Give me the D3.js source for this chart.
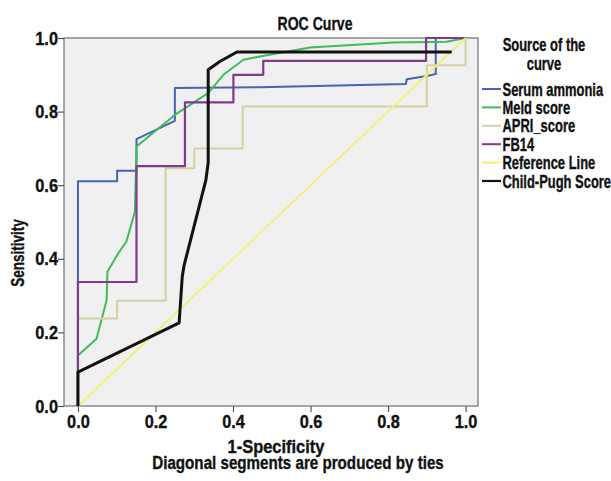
<!DOCTYPE html>
<html>
<head>
<meta charset="utf-8">
<script src="https://cdn.jsdelivr.net/npm/d3@7"></script>
<style>
  body { margin: 0; background: #fff; }
  text { font-family: "Liberation Sans", Arial, sans-serif; font-weight: bold; fill: #111; stroke: #111; stroke-width: 0.35px; }
</style>
</head>
<body>
<div id="chart"></div>
<script>
// series: [1-specificity, sensitivity]
const seriesNames = ["Serum ammonia", "Meld score", "APRI_score", "FB14", "Reference Line", "Child-Pugh Score"];
const seriesColors = ["#4863b4", "#3dbd55", "#d6cfa1", "#7f3b8b", "#f4ef72", "#111111"];

const serumX = [0, 0, 0.101, 0.101, 0.151, 0.151, 0.250, 0.250, 0.470, 0.728, 0.846, 0.848, 0.900, 0.923, 0.923, 1.0];
const serumY = [0, 0.611, 0.611, 0.639, 0.639, 0.725, 0.775, 0.864, 0.866, 0.872, 0.875, 0.888, 0.897, 0.902, 1.0, 1.0];

const meldX = [0, 0, 0.048, 0.074, 0.076, 0.104, 0.125, 0.147, 0.151, 0.250, 0.336, 0.375, 0.427, 0.480, 0.599, 0.814, 0.951, 1.0];
const meldY = [0, 0.137, 0.183, 0.288, 0.365, 0.415, 0.447, 0.528, 0.705, 0.791, 0.850, 0.900, 0.941, 0.952, 0.974, 0.988, 0.990, 1.0];

const apriX = [0, 0, 0.101, 0.101, 0.226, 0.226, 0.300, 0.300, 0.425, 0.425, 0.900, 0.900, 1.0, 1.0];
const apriY = [0, 0.238, 0.238, 0.286, 0.286, 0.646, 0.646, 0.700, 0.700, 0.814, 0.814, 0.926, 0.926, 1.0];

const fb14X = [0, 0, 0.151, 0.151, 0.276, 0.276, 0.401, 0.401, 0.478, 0.478, 0.898, 0.898, 1.0];
const fb14Y = [0, 0.337, 0.337, 0.652, 0.652, 0.825, 0.825, 0.900, 0.900, 0.938, 0.938, 1.0, 1.0];

const refX = [0, 1];
const refY = [0, 1];

const childX = [0, 0, 0.261, 0.269, 0.274, 0.330, 0.336, 0.336, 0.366, 0.410, 0.964];
const childY = [0, 0.092, 0.226, 0.351, 0.383, 0.614, 0.661, 0.914, 0.936, 0.962, 0.962];

const tickValues = [0, 0.2, 0.4, 0.6, 0.8, 1.0];

const allX = [serumX, meldX, apriX, fb14X, refX, childX];
const allY = [serumY, meldY, apriY, fb14Y, refY, childY];
const widths = [2, 2, 2, 2.2, 1.8, 3];

const W = 611, H = 481;
const svg = d3.select("#chart").append("svg")
    .attr("width", W)
    .attr("height", H);

// plot frame
const frame = {left: 64, right: 478, top: 38, bottom: 406};

const x = d3.scaleLinear().domain([-0.036, 1.032]).range([frame.left, frame.right]);
const y = d3.scaleLinear().domain([0, 1]).range([frame.bottom, frame.top]);

svg.append("rect")
    .attr("x", frame.left)
    .attr("y", frame.top)
    .attr("width", frame.right - frame.left)
    .attr("height", frame.bottom - frame.top)
    .attr("fill", "#f0f0f0")
    .attr("stroke", "#7a7a7a")
    .attr("stroke-width", 1.3);

// the reference uses a condensed bold face, so squeeze Liberation Sans sideways
function label(g, px, py, str, size, sx, anchor, rot) {
    return g.append("text")
        .attr("transform", `translate(${px},${py}) rotate(${rot || 0}) scale(${sx},1)`)
        .attr("text-anchor", anchor || "start")
        .style("font-size", size + "px")
        .text(str);
}

// axes
const xAxis = svg.append("g")
    .attr("transform", `translate(0,${frame.bottom})`)
    .call(d3.axisBottom(x).tickValues(tickValues).tickFormat(d3.format(".1f")).tickSize(6).tickPadding(3));
const yAxis = svg.append("g")
    .attr("transform", `translate(${frame.left},0)`)
    .call(d3.axisLeft(y).tickValues(tickValues).tickFormat(d3.format(".1f")).tickSize(6).tickPadding(1));

[xAxis, yAxis].forEach(g => {
    g.select(".domain").remove();
    g.selectAll(".tick line").attr("stroke", "#555").attr("stroke-width", 1.2);
    g.selectAll(".tick text")
        .attr("fill", "#111")
        .attr("transform", "scale(0.86,1)")
        .style("font-size", "19px");
});

// curves, in legend order so later ones sit on top
const line = d3.line().x(d => x(d[0])).y(d => y(d[1]));
const curves = svg.append("g");
allX.forEach((xs, i) => {
    const pts = xs.map((v, j) => [v, allY[i][j]]);
    curves.append("path")
        .datum(pts)
        .attr("fill", "none")
        .attr("stroke", seriesColors[i])
        .attr("stroke-width", widths[i])
        .attr("stroke-linejoin", "round")
        .attr("d", line);
});

// titles
label(svg, 315, 30, "ROC Curve", 18.5, 0.76, "middle");
label(svg, 276, 453, "1-Specificity", 18.5, 0.89, "middle");
label(svg, 298, 469, "Diagonal segments are produced by ties", 18.5, 0.82, "middle");
label(svg, 24, 253, "Sensitivity", 17.5, 0.77, "middle", -90);

// legend
const legend = svg.append("g");
label(legend, 544, 51, "Source of the", 17.5, 0.74, "middle");
label(legend, 544, 70, "curve", 17.5, 0.74, "middle");

seriesNames.forEach((name, i) => {
    const ly = 89 + i * 18.4;
    legend.append("line")
        .attr("x1", 482).attr("x2", 501)
        .attr("y1", ly).attr("y2", ly)
        .attr("stroke", seriesColors[i])
        .attr("stroke-width", i === 5 ? 2.2 : 2);
    label(legend, 502.5, ly + 6.5, name, 17.5, 0.74);
});
</script>
</body>
</html>
